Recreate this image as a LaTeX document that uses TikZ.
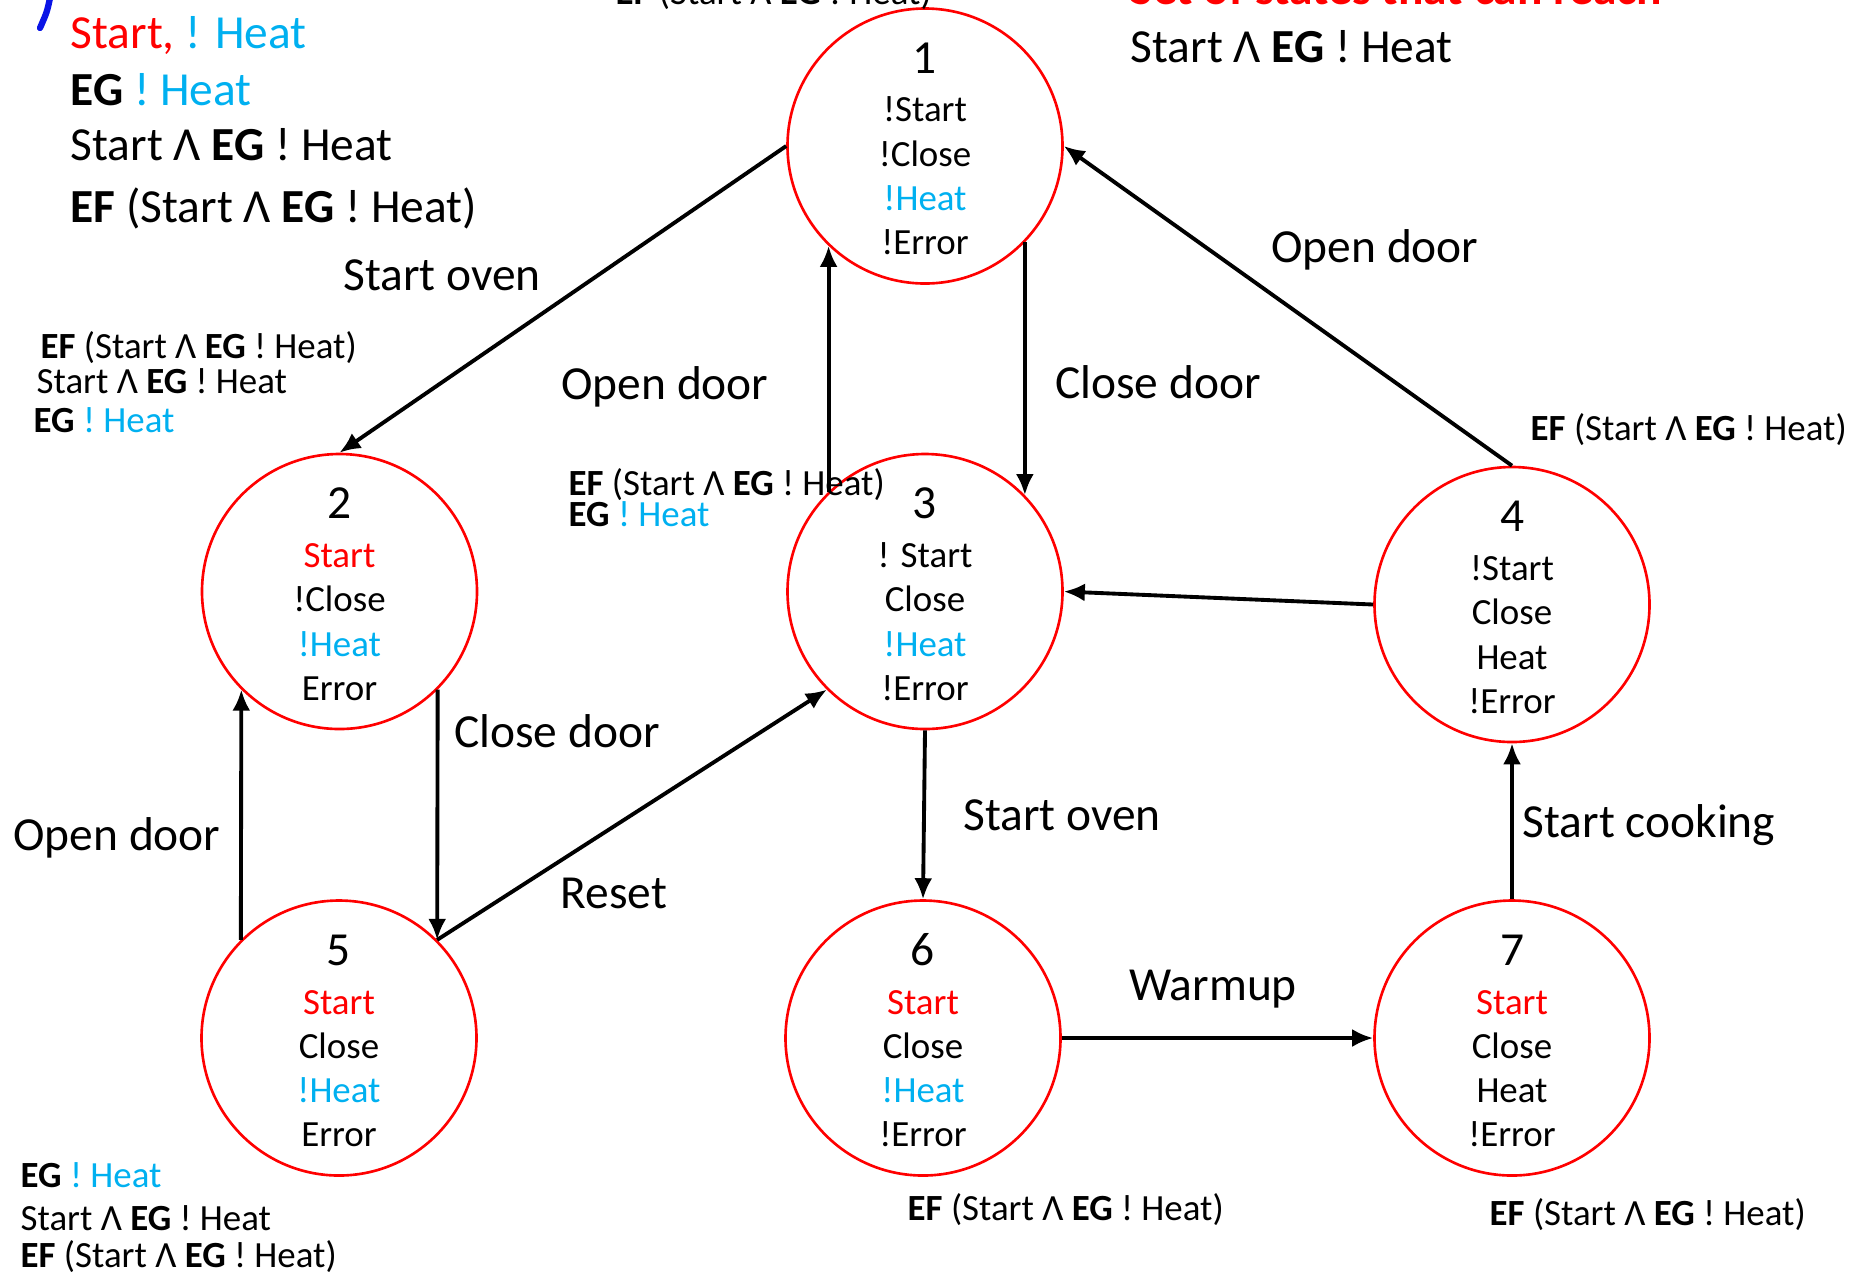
\documentclass[tikz,border=0pt]{standalone}
\usepackage{fontspec}
\setmainfont{Carlito}
\usetikzlibrary{arrows.meta}

\definecolor{startred}{HTML}{FF0000}
\definecolor{heatblue}{HTML}{00B0F0}
\definecolor{penblue}{HTML}{0A14E6}

\newcommand{\ctlstart}{\textcolor{startred}{Start}}
\newcommand{\ctlheat}{\textcolor{heatblue}{!Heat}}
\newcommand{\ctlnum}[1]{{\fontsize{13.5}{14}\selectfont\rule{0pt}{10.3pt}#1}\\[1.3pt]}
\newcommand{\ctlef}{\textbf{EF} (Start Λ \textbf{EG} ! Heat)}
\newcommand{\ctlsteg}{Start Λ \textbf{EG} ! Heat}
\newcommand{\ctleg}{\textbf{EG} \textcolor{heatblue}{! Heat}}

\begin{document}
\begin{tikzpicture}[
    st/.style={circle, draw=startred, line width=0.75pt, minimum size=2.75cm, inner sep=0pt,
        align=center, font=\fontsize{10.5}{12.6}\selectfont},
    lbl/.style={anchor=base, inner sep=0pt, font=\fontsize{13.5}{16}\selectfont},
    note/.style={anchor=base west, inner sep=0pt, font=\fontsize{10.5}{12}\selectfont},
    bignote/.style={anchor=base west, inner sep=0pt, font=\fontsize{13.5}{16}\selectfont},
    trans/.style={-{Latex[length=2.1mm,width=1.8mm]}, line width=1.1pt}
]
    \useasboundingbox (0,0) rectangle (18.6,-12.72);

    % Draw the states
    \node[st] (s1) at (9.25,-1.46) {\ctlnum{1}!Start\\!Close\\\ctlheat\\!Error};
    \node[st] (s2) at (3.395,-5.915) {\ctlnum{2}\ctlstart\\!Close\\\ctlheat\\Error};
    \node[st] (s3) at (9.25,-5.915) {\ctlnum{3}! Start\\Close\\\ctlheat\\!Error};
    \node[st] (s4) at (15.12,-6.045) {\ctlnum{4}!Start\\Close\\Heat\\!Error};
    \node[st] (s5) at (3.39,-10.38) {\ctlnum{5}\ctlstart\\Close\\\ctlheat\\Error};
    \node[st] (s6) at (9.23,-10.38) {\ctlnum{6}\ctlstart\\Close\\\ctlheat\\!Error};
    \node[st] (s7) at (15.12,-10.38) {\ctlnum{7}\ctlstart\\Close\\Heat\\!Error};

    % Draw the transitions
    \draw[trans] (s1.west) -- (s2.north);
    \draw[trans] (s3.134) -- (s1.226);
    \draw[trans] (s1.-44) -- (s3.44);
    \draw[trans] (s4.north) -- (s1.east);
    \draw[trans] (s4.west) -- (s3.east);
    \draw[trans] (s2.-45) -- (s5.45);
    \draw[trans] (s5.135) -- (s2.225);
    \draw[trans] (s5.45) -- (s3.225);
    \draw[trans] (s3.south) -- (s6.north);
    \draw[trans] (s6.east) -- (s7.west);
    \draw[trans] (s7.north) -- (s4.south);

    % Add transition labels
    \node[lbl] (startoven1) at (4.42,-2.90) {Start oven};
    \node[lbl] (opendoor1) at (6.65,-3.99) {Open door};
    \node[lbl] (closedoor1) at (11.58,-3.98) {Close door};
    \node[lbl] (opendoor2) at (13.75,-2.62) {Open door};
    \node[lbl] (closedoor2) at (5.57,-7.47) {Close door};
    \node[lbl] (opendoor3) at (1.17,-8.50) {Open door};
    \node[lbl] (reset) at (6.14,-9.08) {Reset};
    \node[lbl] (startoven2) at (10.62,-8.30) {Start oven};
    \node[lbl] (warmup) at (12.13,-10.00) {Warmup};
    \node[lbl] (startcook) at (16.49,-8.37) {Start cooking};

    % Add the formulas at the top
    \draw[penblue, line width=1.8pt, line cap=round] (0.50,0.02) .. controls (0.47,-0.12) .. (0.40,-0.28);
    \node[bignote] (f1) at (0.70,-0.48) {\textcolor{startred}{Start,} \textcolor{heatblue}{! Heat}};
    \node[bignote] (f2) at (0.70,-1.05) {\ctleg};
    \node[bignote] (f3) at (0.70,-1.60) {\ctlsteg};
    \node[bignote] (f4) at (0.70,-2.22) {\ctlef};
    \node[note] (ftop) at (6.15,-0.04) {\ctlef};
    \node[bignote] (settitle) at (11.30,-0.04) {\textcolor{startred}{\textbf{Set of states that can reach}}};
    \node[bignote] (setgoal) at (11.30,-0.62) {\ctlsteg};

    % Add the formulas that hold in each state
    \node[note] (a2) at (0.40,-3.58) {\ctlef};
    \node[note] (b2) at (0.36,-3.93) {\ctlsteg};
    \node[note] (c2) at (0.33,-4.32) {\ctleg};
    \node[note] (a3) at (5.68,-4.95) {\ctlef};
    \node[note] (c3) at (5.68,-5.26) {\ctleg};
    \node[note] (a4) at (15.30,-4.40) {\ctlef};
    \node[note] (c5) at (0.20,-11.87) {\ctleg};
    \node[note] (b5) at (0.20,-12.30) {\ctlsteg};
    \node[note] (a5) at (0.20,-12.67) {\ctlef};
    \node[note] (a6) at (9.07,-12.20) {\ctlef};
    \node[note] (a7) at (14.89,-12.25) {\ctlef};

\end{tikzpicture}
\end{document}
